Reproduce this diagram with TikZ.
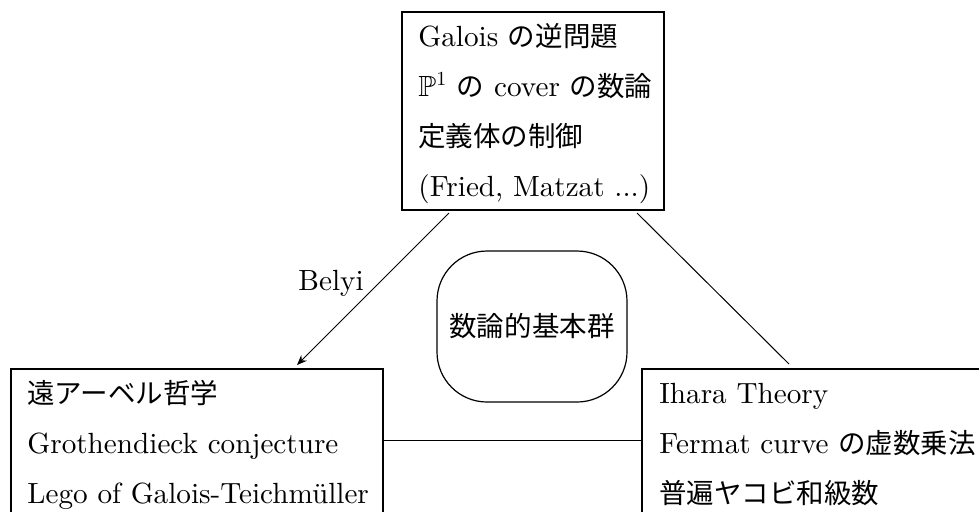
\documentclass[tikz,border=0pt]{standalone}
\usepackage{fontspec}
\usepackage{amssymb}
\setmainfont{lmroman10-regular.otf}
\newfontfamily\cjk[Scale=0.942]{Noto Sans CJK JP}
\usetikzlibrary{arrows.meta}
\begin{document}
\begin{tikzpicture}[x=0.5pt,y=-0.5pt,
  box/.style={draw, line width=0.6pt, anchor=north west, inner sep=0pt, outer sep=0pt},
  roundbox/.style={draw, line width=0.6pt, rounded corners=25pt, inner sep=0pt, outer sep=0pt},
  txt/.style={anchor=base west, inner sep=0pt, font=\fontsize{14.6pt}{17pt}\selectfont},
  conn/.style={line width=0.5pt},
  arr/.style={conn, -{Stealth[length=5pt,width=4pt]}}]
\useasboundingbox (0,0) rectangle (979,511);
\clip (0,0) rectangle (979,511);
% boxes
\node[box, minimum width=131pt, minimum height=99pt] (top) at (402,12) {};
\node[box, minimum width=186pt, minimum height=100pt] (left) at (11,369) {};
\node[box, minimum width=200pt, minimum height=100pt] (right) at (642,369) {};
\node[roundbox, minimum width=95pt, minimum height=75.5pt, font=\fontsize{14.6pt}{17pt}\selectfont] (center) at (532,326.5) {\cjk 数論的基本群};
% texts in top box
\node[txt] (t1) at (418,46) {Galois {\cjk の逆問題}};
\node[txt] (t2) at (418,96) {$\mathbb{P}^1$ {\cjk の} cover {\cjk の数論}};
\node[txt] (t3) at (418,146) {\cjk 定義体の制御};
\node[txt] (t4) at (418,196) {(Fried, Matzat ...)};
% texts in left box
\node[txt] (l1) at (27,403) {\cjk 遠アーベル哲学};
\node[txt] (l2) at (27,453) {Grothendieck conjecture};
\node[txt] (l3) at (27,503) {Lego of Galois-Teichm\"uller};
% texts in right box
\node[txt] (r1) at (659,403) {Ihara Theory};
\node[txt] (r2) at (659,453) {Fermat curve {\cjk の虚数乗法}};
\node[txt] (r3) at (659,503) {\cjk 普遍ヤコビ和級数};
% connectors
\draw[arr] ([shift={(47,3)}]top.south west) -- ([shift={(286,-4)}]left.north west);
\node[txt] (belyi) at (298,290) {Belyi};
\draw[conn] ([shift={(-27,3)}]top.south east) -- ([shift={(147,-5)}]right.north west);
\draw[conn] ([shift={(0,71)}]left.north east) -- ([shift={(0,71)}]right.north west);
\end{tikzpicture}
\end{document}
